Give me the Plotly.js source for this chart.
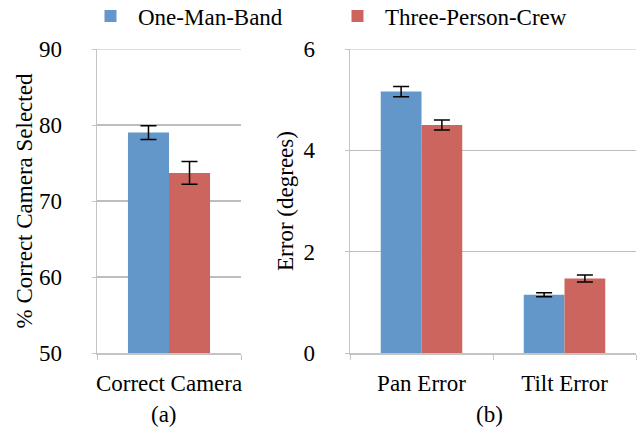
<!DOCTYPE html>
<html>
<head>
<meta charset="utf-8">
<script src="https://cdn.plot.ly/plotly-3.0.1.min.js"></script>
<style>html,body{margin:0;padding:0;background:#fff}#chart{width:641px;height:428px}</style>
</head>
<body>
<div id="chart"></div>
<script>
// Panel (a)
const catsA = ["Correct Camera"];
const oneManA = [79.0];
const oneManAErr = [0.9];
const threeCrewA = [73.7];
const threeCrewAErr = [1.5];
// Panel (b)
const catsB = ["Pan Error", "Tilt Error"];
const oneManB = [5.16, 1.15];
const oneManBErr = [0.1, 0.04];
const threeCrewB = [4.50, 1.47];
const threeCrewBErr = [0.1, 0.07];
const seriesNames = ["One-Man-Band", "Three-Person-Crew"];
const ticksA = [50, 60, 70, 80, 90];
const ticksB = [0, 2, 4, 6];

const blue = "#6396c9", red = "#cd655f";
function tf() { return {family: "Liberation Serif", size: 23, color: "#000"}; }
function errStyle(arr) { return {type: "data", visible: true, array: arr, color: "#000", thickness: 1.5, width: 8}; }

const traces = [
  {type: "bar", name: seriesNames[0], x: catsA, y: oneManA, marker: {color: blue},
   error_y: errStyle(oneManAErr), xaxis: "x", yaxis: "y"},
  {type: "bar", name: seriesNames[1], x: catsA, y: threeCrewA, marker: {color: red},
   error_y: errStyle(threeCrewAErr), xaxis: "x", yaxis: "y"},
  {type: "bar", name: seriesNames[0], x: catsB, y: oneManB, marker: {color: blue}, showlegend: false,
   error_y: errStyle(oneManBErr), xaxis: "x2", yaxis: "y2"},
  {type: "bar", name: seriesNames[1], x: catsB, y: threeCrewB, marker: {color: red}, showlegend: false,
   error_y: errStyle(threeCrewBErr), xaxis: "x2", yaxis: "y2"}
];

const W = 641, H = 428;
const yDom = [1 - 353 / H, 1 - 49 / H];
const gridC = "#bdbdbd", lineC = "#c4c4c4";
function xAxis(dom, anchor) {
  return {type: "category", domain: dom, anchor: anchor, showline: true, linecolor: lineC, linewidth: 1.5,
    ticks: "outside", tickson: "boundaries", ticklen: 5, tickcolor: lineC, showgrid: false,
    ticklabelstandoff: 9, tickangle: 0, tickfont: tf(), fixedrange: true, automargin: false};
}
function yAxis(anchor, range, vals, title, standoff) {
  return {domain: yDom, anchor: anchor, range: range, tickvals: vals, showline: true, linecolor: lineC,
    linewidth: 1.5, ticks: "outside", ticklen: 4, tickcolor: lineC, showgrid: true, gridcolor: gridC,
    gridwidth: 1.2, zeroline: false, ticklabelstandoff: 25, tickfont: tf(), fixedrange: true, automargin: false,
    title: {text: title, standoff: standoff, font: tf()}};
}

const layout = {
  width: W, height: H,
  margin: {l: 0, r: 0, t: 0, b: 0, pad: 0, autoexpand: false},
  paper_bgcolor: "#fff", plot_bgcolor: "#fff",
  font: tf(),
  barmode: "group", bargap: 0.43, bargroupgap: 0,
  showlegend: true,
  legend: {orientation: "h", x: 83 / W, xanchor: "left", y: 1 - 16 / H, yanchor: "middle",
    font: tf(), itemwidth: 45, entrywidth: 187, entrywidthmode: "pixels", bgcolor: "rgba(0,0,0,0)"},
  xaxis: xAxis([97 / W, 241 / W], "y"),
  yaxis: yAxis("x", [50, 90], ticksA, "% Correct Camera Selected", 0),
  xaxis2: xAxis([350 / W, 636 / W], "y2"),
  yaxis2: yAxis("x2", [0, 6], ticksB, "Error (degrees)", 3),
  shapes: [
    {type: "line", xref: "x domain", yref: "y", x0: 0, x1: 1, y0: ticksA[ticksA.length - 1], y1: ticksA[ticksA.length - 1],
     line: {color: gridC, width: 1.2}, layer: "below"},
    {type: "line", xref: "x2 domain", yref: "y2", x0: 0, x1: 1, y0: ticksB[ticksB.length - 1], y1: ticksB[ticksB.length - 1],
     line: {color: gridC, width: 1.2}, layer: "below"}
  ],
  annotations: [
    {text: "(a)", xref: "paper", yref: "paper", x: 164 / W, y: 1 - 414 / H, showarrow: false,
     xanchor: "center", yanchor: "middle", font: tf()},
    {text: "(b)", xref: "paper", yref: "paper", x: 489 / W, y: 1 - 414 / H, showarrow: false,
     xanchor: "center", yanchor: "middle", font: tf()}
  ]
};

Plotly.newPlot("chart", traces, layout, {displayModeBar: false, staticPlot: true});
</script>
</body>
</html>
